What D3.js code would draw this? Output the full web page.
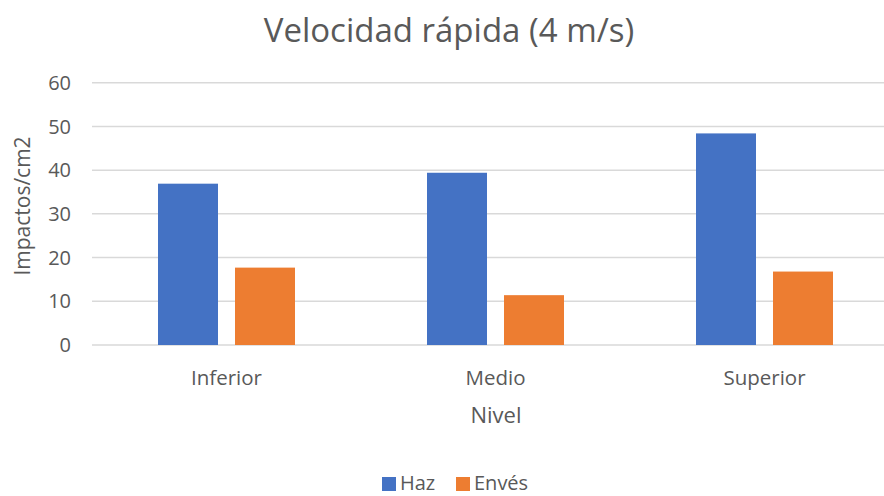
<!DOCTYPE html>
<html lang="es">
<head>
	<meta charset="UTF-8">
	<title>Velocidad rápida</title>
	<script type="text/javascript" src="https://cdn.jsdelivr.net/npm/d3@7/dist/d3.min.js"></script>
	<style>
		body { margin: 0; background: #fff; }
		text { font-family: "Open Sans", sans-serif; fill: #595959; }
		.grid line { stroke: #d9d9d9; stroke-width: 1.5; }
	</style>
</head>
<body>
<script type="text/javascript">
	var categories = ['Inferior', 'Medio', 'Superior'];
	var series = ['Haz', 'Envés'];
	var haz = [36.9, 39.4, 48.4];
	var enves = [17.7, 11.4, 16.8];
	var yTicks = [0, 10, 20, 30, 40, 50, 60];
	var colors = ['#4472C4', '#ED7D31'];

	window.onload = function () {
		var W = 884, H = 496;
		var svg = d3.select('body').append('svg')
			.attr('width', W).attr('height', H);

		var x = d3.scaleBand().domain(categories).range([92, 899]);
		var x1 = d3.scaleBand().domain(series).range([0, 137]).paddingInner(17 / 77);
		var y = d3.scaleLinear().domain([0, 60]).range([345, 82.7]);

		// gridlines
		svg.append('g').attr('class', 'grid')
			.selectAll('line').data(yTicks).enter().append('line')
			.attr('x1', 92).attr('x2', 899)
			.attr('y1', function (d) { return y(d); })
			.attr('y2', function (d) { return y(d); });

		// y tick labels
		svg.append('g').selectAll('text').data(yTicks).enter().append('text')
			.attr('x', 71).attr('y', function (d) { return y(d); })
			.attr('dy', '0.36em').attr('text-anchor', 'end')
			.style('font-size', '20px')
			.text(function (d) { return d; });

		var rows = categories.map(function (c, i) {
			return {cat: c, values: [haz[i], enves[i]]};
		});

		var groups = svg.append('g').selectAll('g').data(rows).enter().append('g')
			.attr('transform', function (d) {
				return 'translate(' + (x(d.cat) + (x.bandwidth() - 137) / 2) + ',0)';
			});

		groups.selectAll('rect').data(function (d) {
			return d.values.map(function (v, j) { return {s: series[j], v: v, j: j}; });
		}).enter().append('rect')
			.attr('x', function (d) { return x1(d.s); })
			.attr('width', x1.bandwidth())
			.attr('y', function (d) { return y(d.v); })
			.attr('height', function (d) { return y(0) - y(d.v); })
			.attr('fill', function (d) { return colors[d.j]; });

		// x labels
		svg.append('g').selectAll('text').data(categories).enter().append('text')
			.attr('x', function (d) { return x(d) + x.bandwidth() / 2; })
			.attr('y', 385).attr('text-anchor', 'middle')
			.style('font-size', '20.5px')
			.text(function (d) { return d; });

		// title
		svg.append('text').attr('x', 449).attr('y', 42).attr('text-anchor', 'middle')
			.style('font-size', '33px').text('Velocidad rápida (4 m/s)');

		// axis titles
		svg.append('text').attr('x', 496).attr('y', 423).attr('text-anchor', 'middle')
			.style('font-size', '22px').text('Nivel');
		svg.append('text').attr('transform', 'translate(30,206) rotate(-90)')
			.attr('text-anchor', 'middle')
			.style('font-size', '21px').text('Impactos/cm2');

		// legend
		var legX = [382, 456];
		var leg = svg.append('g').selectAll('g').data(series).enter().append('g')
			.attr('transform', function (d, i) { return 'translate(' + legX[i] + ',477)'; });
		leg.append('rect').attr('width', 14).attr('height', 14)
			.attr('fill', function (d, i) { return colors[i]; });
		leg.append('text').attr('x', 18).attr('y', 13)
			.style('font-size', '20px').text(function (d) { return d; });
	};
</script>
</body>
</html>
